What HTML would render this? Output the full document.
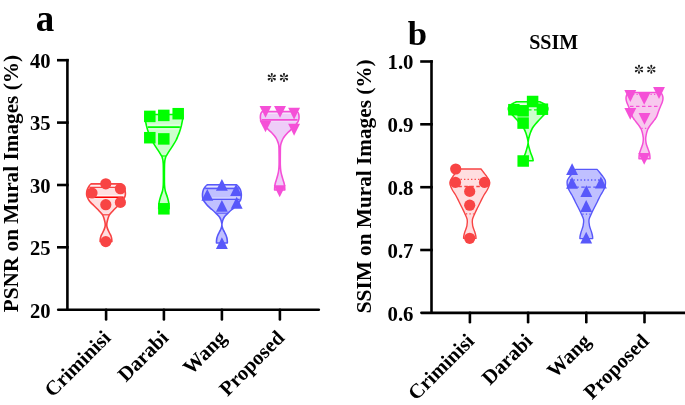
<!DOCTYPE html>
<html><head><meta charset="utf-8"><style>
html,body{margin:0;padding:0;background:#fff;}
body{width:685px;height:405px;overflow:hidden;font-family:"Liberation Serif",serif;}
svg{display:block;}
</style></head><body>
<svg width="685" height="405" viewBox="0 0 685 405">
<rect width="685" height="405" fill="#fff"/>
<path d="M91.00,183.90 C90.70,184.25 89.78,185.15 89.20,186.00 C88.62,186.85 87.92,188.00 87.50,189.00 C87.08,190.00 86.83,191.00 86.70,192.00 C86.57,193.00 86.53,194.00 86.70,195.00 C86.87,196.00 87.30,197.08 87.70,198.00 C88.10,198.92 88.62,199.77 89.10,200.50 C89.58,201.23 89.82,201.57 90.60,202.40 C91.38,203.23 92.72,204.43 93.80,205.50 C94.88,206.57 96.20,207.88 97.10,208.80 C98.00,209.72 98.50,210.25 99.20,211.00 C99.90,211.75 100.68,212.55 101.30,213.30 C101.92,214.05 102.45,214.63 102.90,215.50 C103.35,216.37 103.68,217.50 104.00,218.50 C104.32,219.50 104.60,220.58 104.80,221.50 C105.00,222.42 105.15,223.17 105.20,224.00 C105.25,224.83 105.28,225.57 105.10,226.50 C104.92,227.43 104.53,228.52 104.10,229.60 C103.67,230.68 103.02,231.93 102.50,233.00 C101.98,234.07 101.37,235.00 101.00,236.00 C100.63,237.00 100.45,238.07 100.30,239.00 C100.15,239.93 100.13,241.17 100.10,241.60 L111.90,241.60 C111.87,241.17 111.85,239.93 111.70,239.00 C111.55,238.07 111.37,237.00 111.00,236.00 C110.63,235.00 110.02,234.07 109.50,233.00 C108.98,231.93 108.33,230.68 107.90,229.60 C107.47,228.52 107.08,227.43 106.90,226.50 C106.72,225.57 106.75,224.83 106.80,224.00 C106.85,223.17 107.00,222.42 107.20,221.50 C107.40,220.58 107.68,219.50 108.00,218.50 C108.32,217.50 108.65,216.37 109.10,215.50 C109.55,214.63 110.08,214.05 110.70,213.30 C111.32,212.55 112.10,211.75 112.80,211.00 C113.50,210.25 114.00,209.72 114.90,208.80 C115.80,207.88 117.12,206.57 118.20,205.50 C119.28,204.43 120.62,203.23 121.40,202.40 C122.18,201.57 122.42,201.23 122.90,200.50 C123.38,199.77 123.90,198.92 124.30,198.00 C124.70,197.08 125.13,196.00 125.30,195.00 C125.47,194.00 125.43,193.00 125.30,192.00 C125.17,191.00 124.92,190.00 124.50,189.00 C124.08,188.00 123.38,186.85 122.80,186.00 C122.22,185.15 121.30,184.25 121.00,183.90 Z" fill="#ffdee0" stroke="#f84444" stroke-width="1.6" stroke-linejoin="round"/>
<line x1="90.29" y1="185.9" x2="121.71" y2="185.9" stroke="#fff4f4" stroke-width="1.3"/>
<line x1="89.41" y1="187.4" x2="122.59" y2="187.4" stroke="#f84444" stroke-width="1.3"/>
<line x1="87.90" y1="195.6" x2="124.10" y2="195.6" stroke="#fff2f2" stroke-width="1.3"/>
<line x1="88.45" y1="197.25" x2="123.55" y2="197.25" stroke="#ff0000" stroke-width="1.5"/>
<line x1="89.09" y1="198.7" x2="122.91" y2="198.7" stroke="#ffeaea" stroke-width="1.0"/>
<line x1="102.89" y1="214.8" x2="109.11" y2="214.8" stroke="#f84444" stroke-width="1.2"/>
<circle cx="105.8" cy="183.8" r="5.6" fill="#f84444"/>
<circle cx="92.0" cy="193.0" r="5.6" fill="#f84444"/>
<circle cx="120.4" cy="188.7" r="5.6" fill="#f84444"/>
<circle cx="105.8" cy="204.7" r="5.6" fill="#f84444"/>
<circle cx="120.4" cy="202.4" r="5.6" fill="#f84444"/>
<circle cx="105.8" cy="241.6" r="5.6" fill="#f84444"/>
<path d="M145.30,114.50 C145.23,114.92 144.73,115.25 144.90,117.00 C145.07,118.75 145.73,122.50 146.30,125.00 C146.87,127.50 147.70,130.17 148.30,132.00 C148.90,133.83 149.35,134.67 149.90,136.00 C150.45,137.33 150.83,138.52 151.60,140.00 C152.37,141.48 153.47,143.25 154.50,144.90 C155.53,146.55 156.73,148.25 157.80,149.90 C158.87,151.55 160.22,153.70 160.90,154.80 C161.58,155.90 161.63,155.88 161.90,156.50 C162.17,157.12 162.32,157.75 162.50,158.50 C162.68,159.25 162.87,159.92 163.00,161.00 C163.13,162.08 163.23,162.67 163.30,165.00 C163.37,167.33 163.40,171.67 163.40,175.00 C163.40,178.33 163.45,182.33 163.30,185.00 C163.15,187.67 162.97,189.00 162.50,191.00 C162.03,193.00 161.08,195.00 160.50,197.00 C159.92,199.00 159.30,201.03 159.00,203.00 C158.70,204.97 158.75,207.83 158.70,208.80 L169.10,208.80 C169.05,207.83 169.10,204.97 168.80,203.00 C168.50,201.03 167.88,199.00 167.30,197.00 C166.72,195.00 165.77,193.00 165.30,191.00 C164.83,189.00 164.65,187.67 164.50,185.00 C164.35,182.33 164.40,178.33 164.40,175.00 C164.40,171.67 164.43,167.33 164.50,165.00 C164.57,162.67 164.67,162.08 164.80,161.00 C164.93,159.92 165.12,159.25 165.30,158.50 C165.48,157.75 165.63,157.12 165.90,156.50 C166.17,155.88 166.22,155.90 166.90,154.80 C167.58,153.70 168.93,151.55 170.00,149.90 C171.07,148.25 172.27,146.55 173.30,144.90 C174.33,143.25 175.43,141.48 176.20,140.00 C176.97,138.52 177.35,137.33 177.90,136.00 C178.45,134.67 178.90,133.83 179.50,132.00 C180.10,130.17 180.93,127.50 181.50,125.00 C182.07,122.50 182.73,118.75 182.90,117.00 C183.07,115.25 182.57,114.92 182.50,114.50 Z" fill="#ccffcc" stroke="#00ff00" stroke-width="1.6" stroke-linejoin="round"/>
<line x1="147.36" y1="125.2" x2="180.44" y2="125.2" stroke="#e6ffe6" stroke-width="1.2"/>
<line x1="148.44" y1="129.0" x2="179.36" y2="129.0" stroke="#e6ffe6" stroke-width="0.9"/>
<line x1="147.93" y1="127.2" x2="179.87" y2="127.2" stroke="#00ff00" stroke-width="1.8"/>
<line x1="161.91" y1="156.0" x2="165.89" y2="156.0" stroke="#00ff00" stroke-width="1.2"/>
<rect x="144.05" y="110.65" width="11.5" height="11.5" fill="#00ff00"/>
<rect x="158.05" y="109.65" width="11.5" height="11.5" fill="#00ff00"/>
<rect x="172.45" y="107.95" width="11.5" height="11.5" fill="#00ff00"/>
<rect x="144.05" y="131.95" width="11.5" height="11.5" fill="#00ff00"/>
<rect x="158.05" y="133.15" width="11.5" height="11.5" fill="#00ff00"/>
<rect x="158.15" y="203.05" width="11.5" height="11.5" fill="#00ff00"/>
<path d="M207.30,184.70 C206.93,185.08 205.77,186.12 205.10,187.00 C204.43,187.88 203.73,188.83 203.30,190.00 C202.87,191.17 202.60,192.67 202.50,194.00 C202.40,195.33 202.57,197.00 202.70,198.00 C202.83,199.00 202.85,199.17 203.30,200.00 C203.75,200.83 204.57,201.93 205.40,203.00 C206.23,204.07 207.22,205.32 208.30,206.40 C209.38,207.48 210.68,208.42 211.90,209.50 C213.12,210.58 214.37,211.70 215.60,212.90 C216.83,214.10 218.45,215.60 219.30,216.70 C220.15,217.80 220.33,218.62 220.70,219.50 C221.07,220.38 221.30,221.17 221.50,222.00 C221.70,222.83 221.88,223.67 221.90,224.50 C221.92,225.33 221.80,226.17 221.60,227.00 C221.40,227.83 221.07,228.67 220.70,229.50 C220.33,230.33 219.87,231.08 219.40,232.00 C218.93,232.92 218.32,234.00 217.90,235.00 C217.48,236.00 217.13,237.00 216.90,238.00 C216.67,239.00 216.57,240.17 216.50,241.00 C216.43,241.83 216.50,242.67 216.50,243.00 L227.30,243.00 C227.30,242.67 227.37,241.83 227.30,241.00 C227.23,240.17 227.13,239.00 226.90,238.00 C226.67,237.00 226.32,236.00 225.90,235.00 C225.48,234.00 224.87,232.92 224.40,232.00 C223.93,231.08 223.47,230.33 223.10,229.50 C222.73,228.67 222.40,227.83 222.20,227.00 C222.00,226.17 221.88,225.33 221.90,224.50 C221.92,223.67 222.10,222.83 222.30,222.00 C222.50,221.17 222.73,220.38 223.10,219.50 C223.47,218.62 223.65,217.80 224.50,216.70 C225.35,215.60 226.97,214.10 228.20,212.90 C229.43,211.70 230.68,210.58 231.90,209.50 C233.12,208.42 234.42,207.48 235.50,206.40 C236.58,205.32 237.57,204.07 238.40,203.00 C239.23,201.93 240.05,200.83 240.50,200.00 C240.95,199.17 240.97,199.00 241.10,198.00 C241.23,197.00 241.40,195.33 241.30,194.00 C241.20,192.67 240.93,191.17 240.50,190.00 C240.07,188.83 239.37,187.88 238.70,187.00 C238.03,186.12 236.87,185.08 236.50,184.70 Z" fill="#c0c0ff" stroke="#5858fa" stroke-width="1.6" stroke-linejoin="round"/>
<line x1="206.48" y1="186.6" x2="237.32" y2="186.6" stroke="#e4e4ff" stroke-width="1.4"/>
<line x1="205.20" y1="188.5" x2="238.60" y2="188.5" stroke="#5858fa" stroke-width="1.4"/>
<line x1="203.69" y1="197.9" x2="240.11" y2="197.9" stroke="#d4d4ff" stroke-width="1.2"/>
<line x1="204.11" y1="199.35" x2="239.69" y2="199.35" stroke="#5858fa" stroke-width="1.3"/>
<line x1="216.29" y1="213.2" x2="227.51" y2="213.2" stroke="#5858fa" stroke-width="1.1"/>
<path d="M221.90,178.90 L227.85,190.70 L215.95,190.70 Z" fill="#5858fa"/>
<path d="M207.30,188.90 L213.25,200.70 L201.35,200.70 Z" fill="#5858fa"/>
<path d="M236.10,184.10 L242.05,195.90 L230.15,195.90 Z" fill="#5858fa"/>
<path d="M221.90,199.95 L227.85,211.75 L215.95,211.75 Z" fill="#5858fa"/>
<path d="M236.70,196.85 L242.65,208.65 L230.75,208.65 Z" fill="#5858fa"/>
<path d="M221.90,237.15 L227.85,248.95 L215.95,248.95 Z" fill="#5858fa"/>
<path d="M262.10,111.60 C261.90,111.92 261.18,112.77 260.90,113.50 C260.62,114.23 260.47,115.08 260.40,116.00 C260.33,116.92 260.38,118.17 260.50,119.00 C260.62,119.83 260.80,120.33 261.10,121.00 C261.40,121.67 261.80,122.28 262.30,123.00 C262.80,123.72 263.43,124.55 264.10,125.30 C264.77,126.05 265.50,126.70 266.30,127.50 C267.10,128.30 268.03,129.27 268.90,130.10 C269.77,130.93 270.55,131.53 271.50,132.50 C272.45,133.47 273.80,134.90 274.60,135.90 C275.40,136.90 275.77,137.50 276.30,138.50 C276.83,139.50 277.40,140.85 277.80,141.90 C278.20,142.95 278.50,143.78 278.70,144.80 C278.90,145.82 278.93,146.30 279.00,148.00 C279.07,149.70 279.08,152.17 279.10,155.00 C279.12,157.83 279.18,162.33 279.10,165.00 C279.02,167.67 278.83,169.30 278.60,171.00 C278.37,172.70 278.08,173.70 277.70,175.20 C277.32,176.70 276.70,178.67 276.30,180.00 C275.90,181.33 275.55,182.20 275.30,183.20 C275.05,184.20 274.92,184.87 274.80,186.00 C274.68,187.13 274.63,189.33 274.60,190.00 L284.80,190.00 C284.77,189.33 284.72,187.13 284.60,186.00 C284.48,184.87 284.35,184.20 284.10,183.20 C283.85,182.20 283.50,181.33 283.10,180.00 C282.70,178.67 282.08,176.70 281.70,175.20 C281.32,173.70 281.03,172.70 280.80,171.00 C280.57,169.30 280.38,167.67 280.30,165.00 C280.22,162.33 280.28,157.83 280.30,155.00 C280.32,152.17 280.33,149.70 280.40,148.00 C280.47,146.30 280.50,145.82 280.70,144.80 C280.90,143.78 281.20,142.95 281.60,141.90 C282.00,140.85 282.57,139.50 283.10,138.50 C283.63,137.50 284.00,136.90 284.80,135.90 C285.60,134.90 286.95,133.47 287.90,132.50 C288.85,131.53 289.63,130.93 290.50,130.10 C291.37,129.27 292.30,128.30 293.10,127.50 C293.90,126.70 294.63,126.05 295.30,125.30 C295.97,124.55 296.60,123.72 297.10,123.00 C297.60,122.28 298.00,121.67 298.30,121.00 C298.60,120.33 298.78,119.83 298.90,119.00 C299.02,118.17 299.07,116.92 299.00,116.00 C298.93,115.08 298.78,114.23 298.50,113.50 C298.22,112.77 297.50,111.92 297.30,111.60 Z" fill="#eecdf8" stroke="#f550d7" stroke-width="1.6" stroke-linejoin="round"/>
<line x1="262.03" y1="113.3" x2="297.37" y2="113.3" stroke="#f6e8fb" stroke-width="1.0"/>
<line x1="262.22" y1="121.2" x2="297.18" y2="121.2" stroke="#f4e4fa" stroke-width="0.8"/>
<line x1="261.75" y1="119.85" x2="297.64" y2="119.85" stroke="#f550d7" stroke-width="1.9"/>
<path d="M259.55,106.05 L271.45,106.05 L265.50,117.85 Z" fill="#f550d7"/>
<path d="M274.05,105.90 L285.95,105.90 L280.00,117.70 Z" fill="#f550d7"/>
<path d="M288.15,107.70 L300.05,107.70 L294.10,119.50 Z" fill="#f550d7"/>
<path d="M259.55,120.50 L271.45,120.50 L265.50,132.30 Z" fill="#f550d7"/>
<path d="M288.15,123.85 L300.05,123.85 L294.10,135.65 Z" fill="#f550d7"/>
<path d="M273.75,185.35 L285.65,185.35 L279.70,197.15 Z" fill="#f550d7"/>
<path d="M458.60,169.00 C458.22,169.50 457.20,170.83 456.30,172.00 C455.40,173.17 454.15,174.67 453.20,176.00 C452.25,177.33 451.15,178.83 450.60,180.00 C450.05,181.17 449.90,182.00 449.90,183.00 C449.90,184.00 450.18,184.83 450.60,186.00 C451.02,187.17 451.57,188.50 452.40,190.00 C453.23,191.50 454.53,193.13 455.60,195.00 C456.67,196.87 457.77,199.15 458.80,201.20 C459.83,203.25 460.80,205.25 461.80,207.30 C462.80,209.35 463.90,211.43 464.80,213.50 C465.70,215.57 466.85,217.63 467.20,219.70 C467.55,221.77 467.30,223.85 466.90,225.90 C466.50,227.95 465.32,230.32 464.80,232.00 C464.28,233.68 464.00,234.93 463.80,236.00 C463.60,237.07 463.63,238.00 463.60,238.40 L476.00,238.40 C475.97,238.00 476.00,237.07 475.80,236.00 C475.60,234.93 475.32,233.68 474.80,232.00 C474.28,230.32 473.10,227.95 472.70,225.90 C472.30,223.85 472.05,221.77 472.40,219.70 C472.75,217.63 473.90,215.57 474.80,213.50 C475.70,211.43 476.80,209.35 477.80,207.30 C478.80,205.25 479.77,203.25 480.80,201.20 C481.83,199.15 482.93,196.87 484.00,195.00 C485.07,193.13 486.37,191.50 487.20,190.00 C488.03,188.50 488.58,187.17 489.00,186.00 C489.42,184.83 489.70,184.00 489.70,183.00 C489.70,182.00 489.55,181.17 489.00,180.00 C488.45,178.83 487.35,177.33 486.40,176.00 C485.45,174.67 484.20,173.17 483.30,172.00 C482.40,170.83 481.38,169.50 481.00,169.00 Z" fill="#ffdee0" stroke="#f84444" stroke-width="1.4" stroke-linejoin="round"/>
<line x1="453.56" y1="179.3" x2="486.05" y2="179.3" stroke="#f84444" stroke-width="1.3" stroke-dasharray="1.3 2.2"/>
<line x1="452.32" y1="186.5" x2="487.28" y2="186.5" stroke="#f84444" stroke-width="1.3" stroke-dasharray="3.5 2.5"/>
<line x1="465.92" y1="213.8" x2="473.68" y2="213.8" stroke="#f84444" stroke-width="1.3" stroke-dasharray="1.3 2.2"/>
<circle cx="455.7" cy="169.0" r="5.6" fill="#f84444"/>
<circle cx="455.5" cy="182.4" r="5.6" fill="#f84444"/>
<circle cx="484.5" cy="182.4" r="5.6" fill="#f84444"/>
<circle cx="469.7" cy="191.4" r="5.6" fill="#f84444"/>
<circle cx="469.7" cy="205.2" r="5.6" fill="#f84444"/>
<circle cx="469.7" cy="238.3" r="5.6" fill="#f84444"/>
<path d="M516.30,101.80 C515.60,102.17 513.35,103.13 512.10,104.00 C510.85,104.87 509.40,106.00 508.80,107.00 C508.20,108.00 508.22,109.00 508.50,110.00 C508.78,111.00 509.65,111.97 510.50,113.00 C511.35,114.03 512.50,115.03 513.60,116.20 C514.70,117.37 515.92,118.70 517.10,120.00 C518.28,121.30 519.60,122.67 520.70,124.00 C521.80,125.33 522.83,126.50 523.70,128.00 C524.57,129.50 525.33,131.50 525.90,133.00 C526.47,134.50 526.78,135.83 527.10,137.00 C527.42,138.17 527.63,139.08 527.80,140.00 C527.97,140.92 528.10,141.67 528.10,142.50 C528.10,143.33 527.98,144.08 527.80,145.00 C527.62,145.92 527.37,146.72 527.00,148.00 C526.63,149.28 526.08,151.28 525.60,152.70 C525.12,154.12 524.48,155.45 524.10,156.50 C523.72,157.55 523.47,158.30 523.30,159.00 C523.13,159.70 523.13,160.42 523.10,160.70 L533.10,160.70 C533.07,160.42 533.07,159.70 532.90,159.00 C532.73,158.30 532.48,157.55 532.10,156.50 C531.72,155.45 531.08,154.12 530.60,152.70 C530.12,151.28 529.57,149.28 529.20,148.00 C528.83,146.72 528.58,145.92 528.40,145.00 C528.22,144.08 528.10,143.33 528.10,142.50 C528.10,141.67 528.23,140.92 528.40,140.00 C528.57,139.08 528.78,138.17 529.10,137.00 C529.42,135.83 529.73,134.50 530.30,133.00 C530.87,131.50 531.63,129.50 532.50,128.00 C533.37,126.50 534.40,125.33 535.50,124.00 C536.60,122.67 537.92,121.30 539.10,120.00 C540.28,118.70 541.50,117.37 542.60,116.20 C543.70,115.03 544.85,114.03 545.70,113.00 C546.55,111.97 547.42,111.00 547.70,110.00 C547.98,109.00 548.00,108.00 547.40,107.00 C546.80,106.00 545.35,104.87 544.10,104.00 C542.85,103.13 540.60,102.17 539.90,101.80 Z" fill="#ccffcc" stroke="#00ff00" stroke-width="1.6" stroke-linejoin="round"/>
<line x1="514.38" y1="104.2" x2="541.82" y2="104.2" stroke="#f0fff0" stroke-width="1.3"/>
<line x1="510.02" y1="109.8" x2="546.18" y2="109.8" stroke="#00ff00" stroke-width="1.3" stroke-dasharray="3.5 2.5"/>
<rect x="526.85" y="95.75" width="11.5" height="11.5" fill="#00ff00"/>
<rect x="508.15" y="103.95" width="11.5" height="11.5" fill="#00ff00"/>
<rect x="517.35" y="105.05" width="11.5" height="11.5" fill="#00ff00"/>
<rect x="536.65" y="103.45" width="11.5" height="11.5" fill="#00ff00"/>
<rect x="517.35" y="117.35" width="11.5" height="11.5" fill="#00ff00"/>
<rect x="517.45" y="155.25" width="11.5" height="11.5" fill="#00ff00"/>
<path d="M575.50,169.40 C575.13,169.83 574.20,170.90 573.30,172.00 C572.40,173.10 571.07,174.67 570.10,176.00 C569.13,177.33 568.00,178.83 567.50,180.00 C567.00,181.17 567.07,181.83 567.10,183.00 C567.13,184.17 567.30,185.67 567.70,187.00 C568.10,188.33 568.80,189.67 569.50,191.00 C570.20,192.33 570.98,193.30 571.90,195.00 C572.82,196.70 573.97,199.15 575.00,201.20 C576.03,203.25 577.08,205.25 578.10,207.30 C579.12,209.35 580.18,211.43 581.10,213.50 C582.02,215.57 583.27,217.63 583.60,219.70 C583.93,221.77 583.52,223.85 583.10,225.90 C582.68,227.95 581.60,230.32 581.10,232.00 C580.60,233.68 580.30,234.90 580.10,236.00 C579.90,237.10 579.93,238.17 579.90,238.60 L592.70,238.60 C592.67,238.17 592.70,237.10 592.50,236.00 C592.30,234.90 592.00,233.68 591.50,232.00 C591.00,230.32 589.92,227.95 589.50,225.90 C589.08,223.85 588.67,221.77 589.00,219.70 C589.33,217.63 590.58,215.57 591.50,213.50 C592.42,211.43 593.48,209.35 594.50,207.30 C595.52,205.25 596.57,203.25 597.60,201.20 C598.63,199.15 599.78,196.70 600.70,195.00 C601.62,193.30 602.40,192.33 603.10,191.00 C603.80,189.67 604.50,188.33 604.90,187.00 C605.30,185.67 605.47,184.17 605.50,183.00 C605.53,181.83 605.60,181.17 605.10,180.00 C604.60,178.83 603.47,177.33 602.50,176.00 C601.53,174.67 600.20,173.10 599.30,172.00 C598.40,170.90 597.47,169.83 597.10,169.40 Z" fill="#c0c0ff" stroke="#5858fa" stroke-width="1.4" stroke-linejoin="round"/>
<line x1="570.00" y1="180.0" x2="602.60" y2="180.0" stroke="#5858fa" stroke-width="1.3" stroke-dasharray="1.3 2.2"/>
<line x1="569.29" y1="187.2" x2="603.31" y2="187.2" stroke="#5858fa" stroke-width="1.3" stroke-dasharray="3.5 2.5"/>
<line x1="582.34" y1="214.1" x2="590.26" y2="214.1" stroke="#5858fa" stroke-width="1.3" stroke-dasharray="1.3 2.2"/>
<path d="M572.10,163.20 L578.05,175.00 L566.15,175.00 Z" fill="#5858fa"/>
<path d="M572.00,176.90 L577.95,188.70 L566.05,188.70 Z" fill="#5858fa"/>
<path d="M600.90,176.60 L606.85,188.40 L594.95,188.40 Z" fill="#5858fa"/>
<path d="M586.30,185.20 L592.25,197.00 L580.35,197.00 Z" fill="#5858fa"/>
<path d="M586.20,200.10 L592.15,211.90 L580.25,211.90 Z" fill="#5858fa"/>
<path d="M586.20,231.65 L592.15,243.45 L580.25,243.45 Z" fill="#5858fa"/>
<path d="M628.50,92.40 C628.23,92.75 627.30,93.73 626.90,94.50 C626.50,95.27 626.23,96.17 626.10,97.00 C625.97,97.83 626.00,98.67 626.10,99.50 C626.20,100.33 626.40,101.08 626.70,102.00 C627.00,102.92 627.45,103.92 627.90,105.00 C628.35,106.08 628.93,107.33 629.40,108.50 C629.87,109.67 630.25,110.75 630.70,112.00 C631.15,113.25 631.63,114.92 632.10,116.00 C632.57,117.08 633.03,117.77 633.50,118.50 C633.97,119.23 634.37,119.70 634.90,120.40 C635.43,121.10 636.12,121.95 636.70,122.70 C637.28,123.45 637.87,124.18 638.40,124.90 C638.93,125.62 639.43,126.27 639.90,127.00 C640.37,127.73 640.85,128.55 641.20,129.30 C641.55,130.05 641.77,130.75 642.00,131.50 C642.23,132.25 642.43,133.05 642.60,133.80 C642.77,134.55 642.88,135.30 643.00,136.00 C643.12,136.70 643.27,137.17 643.30,138.00 C643.33,138.83 643.30,140.00 643.20,141.00 C643.10,142.00 642.95,143.00 642.70,144.00 C642.45,145.00 642.05,146.00 641.70,147.00 C641.35,148.00 640.95,149.00 640.60,150.00 C640.25,151.00 639.85,152.00 639.60,153.00 C639.35,154.00 639.20,155.03 639.10,156.00 C639.00,156.97 639.02,158.33 639.00,158.80 L650.00,158.80 C649.98,158.33 650.00,156.97 649.90,156.00 C649.80,155.03 649.65,154.00 649.40,153.00 C649.15,152.00 648.75,151.00 648.40,150.00 C648.05,149.00 647.65,148.00 647.30,147.00 C646.95,146.00 646.55,145.00 646.30,144.00 C646.05,143.00 645.90,142.00 645.80,141.00 C645.70,140.00 645.67,138.83 645.70,138.00 C645.73,137.17 645.88,136.70 646.00,136.00 C646.12,135.30 646.23,134.55 646.40,133.80 C646.57,133.05 646.77,132.25 647.00,131.50 C647.23,130.75 647.45,130.05 647.80,129.30 C648.15,128.55 648.63,127.73 649.10,127.00 C649.57,126.27 650.07,125.62 650.60,124.90 C651.13,124.18 651.72,123.45 652.30,122.70 C652.88,121.95 653.57,121.10 654.10,120.40 C654.63,119.70 655.03,119.23 655.50,118.50 C655.97,117.77 656.43,117.08 656.90,116.00 C657.37,114.92 657.85,113.25 658.30,112.00 C658.75,110.75 659.13,109.67 659.60,108.50 C660.07,107.33 660.65,106.08 661.10,105.00 C661.55,103.92 662.00,102.92 662.30,102.00 C662.60,101.08 662.80,100.33 662.90,99.50 C663.00,98.67 663.03,97.83 662.90,97.00 C662.77,96.17 662.50,95.27 662.10,94.50 C661.70,93.73 660.77,92.75 660.50,92.40 Z" fill="#f8c8ee" stroke="#f550d7" stroke-width="1.5" stroke-linejoin="round"/>
<line x1="629.48" y1="94.4" x2="659.52" y2="94.4" stroke="#f550d7" stroke-width="1.3" stroke-dasharray="1.3 2.2"/>
<line x1="630.00" y1="106.4" x2="659.00" y2="106.4" stroke="#f550d7" stroke-width="1.3" stroke-dasharray="3.5 2.5"/>
<line x1="641.43" y1="128.3" x2="647.57" y2="128.3" stroke="#f550d7" stroke-width="1.3" stroke-dasharray="1.3 2.2"/>
<path d="M624.35,90.10 L636.25,90.10 L630.30,101.90 Z" fill="#f550d7"/>
<path d="M638.25,92.90 L650.15,92.90 L644.20,104.70 Z" fill="#f550d7"/>
<path d="M653.05,87.10 L664.95,87.10 L659.00,98.90 Z" fill="#f550d7"/>
<path d="M624.35,108.00 L636.25,108.00 L630.30,119.80 Z" fill="#f550d7"/>
<path d="M638.55,113.00 L650.45,113.00 L644.50,124.80 Z" fill="#f550d7"/>
<path d="M638.25,152.90 L650.15,152.90 L644.20,164.70 Z" fill="#f550d7"/>
<line x1="67.4" y1="58.900000000000006" x2="67.4" y2="309.7" stroke="#000" stroke-width="2.6"/>
<line x1="58.2" y1="309.7" x2="318.8" y2="309.7" stroke="#000" stroke-width="2.6" stroke-linecap="round"/>
<line x1="57.0" y1="60.2" x2="68.7" y2="60.2" stroke="#000" stroke-width="2.6"/>
<line x1="57.0" y1="122.6" x2="68.7" y2="122.6" stroke="#000" stroke-width="2.6"/>
<line x1="57.0" y1="185.0" x2="68.7" y2="185.0" stroke="#000" stroke-width="2.6"/>
<line x1="57.0" y1="247.3" x2="68.7" y2="247.3" stroke="#000" stroke-width="2.6"/>
<line x1="106.1" y1="309.7" x2="106.1" y2="319.4" stroke="#000" stroke-width="2.6" stroke-linecap="round"/>
<line x1="163.9" y1="309.7" x2="163.9" y2="319.4" stroke="#000" stroke-width="2.6" stroke-linecap="round"/>
<line x1="221.9" y1="309.7" x2="221.9" y2="319.4" stroke="#000" stroke-width="2.6" stroke-linecap="round"/>
<line x1="279.9" y1="309.7" x2="279.9" y2="319.4" stroke="#000" stroke-width="2.6" stroke-linecap="round"/>
<line x1="431.5" y1="60.2" x2="431.5" y2="312.85" stroke="#000" stroke-width="2.6"/>
<line x1="421.4" y1="312.85" x2="690" y2="312.85" stroke="#000" stroke-width="2.6" stroke-linecap="round"/>
<line x1="420.2" y1="61.5" x2="432.8" y2="61.5" stroke="#000" stroke-width="2.6"/>
<line x1="420.2" y1="124.3" x2="432.8" y2="124.3" stroke="#000" stroke-width="2.6"/>
<line x1="420.2" y1="187.2" x2="432.8" y2="187.2" stroke="#000" stroke-width="2.6"/>
<line x1="420.2" y1="250.0" x2="432.8" y2="250.0" stroke="#000" stroke-width="2.6"/>
<line x1="469.9" y1="312.85" x2="469.9" y2="322.3" stroke="#000" stroke-width="2.6" stroke-linecap="round"/>
<line x1="528.1" y1="312.85" x2="528.1" y2="322.3" stroke="#000" stroke-width="2.6" stroke-linecap="round"/>
<line x1="586.3" y1="312.85" x2="586.3" y2="322.3" stroke="#000" stroke-width="2.6" stroke-linecap="round"/>
<line x1="644.5" y1="312.85" x2="644.5" y2="322.3" stroke="#000" stroke-width="2.6" stroke-linecap="round"/>
<g style="filter:grayscale(1)">
<text x="50.5" y="68.0" font-family="Liberation Serif" font-weight="bold" font-size="20.6" text-anchor="end">40</text>
<text x="50.5" y="130.4" font-family="Liberation Serif" font-weight="bold" font-size="20.6" text-anchor="end">35</text>
<text x="50.5" y="192.8" font-family="Liberation Serif" font-weight="bold" font-size="20.6" text-anchor="end">30</text>
<text x="50.5" y="255.10000000000002" font-family="Liberation Serif" font-weight="bold" font-size="20.6" text-anchor="end">25</text>
<text x="50.5" y="317.5" font-family="Liberation Serif" font-weight="bold" font-size="20.6" text-anchor="end">20</text>
<text x="413.5" y="69.3" font-family="Liberation Serif" font-weight="bold" font-size="20.8" text-anchor="end">1.0</text>
<text x="413.5" y="132.1" font-family="Liberation Serif" font-weight="bold" font-size="20.8" text-anchor="end">0.9</text>
<text x="413.5" y="195.0" font-family="Liberation Serif" font-weight="bold" font-size="20.8" text-anchor="end">0.8</text>
<text x="413.5" y="257.8" font-family="Liberation Serif" font-weight="bold" font-size="20.8" text-anchor="end">0.7</text>
<text x="413.5" y="320.65000000000003" font-family="Liberation Serif" font-weight="bold" font-size="20.8" text-anchor="end">0.6</text>
<text transform="translate(18.1,183.6) rotate(-90)" font-family="Liberation Serif" font-weight="bold" font-size="21.25" text-anchor="middle">PSNR on Mural Images (%)</text>
<text transform="translate(370.8,186.3) rotate(-90)" font-family="Liberation Serif" font-weight="bold" font-size="21.25" text-anchor="middle">SSIM on Mural Images (%)</text>
<text x="35.7" y="31.0" font-family="Liberation Serif" font-weight="bold" font-size="37">a</text>
<text x="407.8" y="44.6" font-family="Liberation Serif" font-weight="bold" font-size="34.7">b</text>
<text x="553.7" y="48.6" font-family="Liberation Serif" font-weight="bold" font-size="20" text-anchor="middle">SSIM</text>
<path d="M271.95,76.90 L272.85,74.05 A1.05,1.05 0 1 0 270.75,74.05 L271.65,76.90 Z" fill="#1c1c1c"/>
<path d="M272.39,77.33 L275.31,76.68 A1.05,1.05 0 1 0 274.26,74.87 L272.24,77.07 Z" fill="#1c1c1c"/>
<path d="M272.24,77.93 L274.26,80.13 A1.05,1.05 0 1 0 275.31,78.32 L272.39,77.67 Z" fill="#1c1c1c"/>
<path d="M271.65,78.10 L270.75,80.95 A1.05,1.05 0 1 0 272.85,80.95 L271.95,78.10 Z" fill="#1c1c1c"/>
<path d="M271.36,77.07 L269.34,74.87 A1.05,1.05 0 1 0 268.29,76.68 L271.21,77.33 Z" fill="#1c1c1c"/>
<path d="M271.21,77.67 L268.29,78.32 A1.05,1.05 0 1 0 269.34,80.13 L271.36,77.93 Z" fill="#1c1c1c"/>
<path d="M284.15,76.90 L285.05,74.05 A1.05,1.05 0 1 0 282.95,74.05 L283.85,76.90 Z" fill="#1c1c1c"/>
<path d="M284.59,77.33 L287.51,76.68 A1.05,1.05 0 1 0 286.46,74.87 L284.44,77.07 Z" fill="#1c1c1c"/>
<path d="M284.44,77.93 L286.46,80.13 A1.05,1.05 0 1 0 287.51,78.32 L284.59,77.67 Z" fill="#1c1c1c"/>
<path d="M283.85,78.10 L282.95,80.95 A1.05,1.05 0 1 0 285.05,80.95 L284.15,78.10 Z" fill="#1c1c1c"/>
<path d="M283.56,77.07 L281.54,74.87 A1.05,1.05 0 1 0 280.49,76.68 L283.41,77.33 Z" fill="#1c1c1c"/>
<path d="M283.41,77.67 L280.49,78.32 A1.05,1.05 0 1 0 281.54,80.13 L283.56,77.93 Z" fill="#1c1c1c"/>
<path d="M639.15,68.75 L640.05,65.90 A1.05,1.05 0 1 0 637.95,65.90 L638.85,68.75 Z" fill="#1c1c1c"/>
<path d="M639.59,69.18 L642.51,68.53 A1.05,1.05 0 1 0 641.46,66.72 L639.44,68.92 Z" fill="#1c1c1c"/>
<path d="M639.44,69.78 L641.46,71.98 A1.05,1.05 0 1 0 642.51,70.17 L639.59,69.52 Z" fill="#1c1c1c"/>
<path d="M638.85,69.95 L637.95,72.80 A1.05,1.05 0 1 0 640.05,72.80 L639.15,69.95 Z" fill="#1c1c1c"/>
<path d="M638.56,68.92 L636.54,66.72 A1.05,1.05 0 1 0 635.49,68.53 L638.41,69.18 Z" fill="#1c1c1c"/>
<path d="M638.41,69.52 L635.49,70.17 A1.05,1.05 0 1 0 636.54,71.98 L638.56,69.78 Z" fill="#1c1c1c"/>
<path d="M651.45,68.75 L652.35,65.90 A1.05,1.05 0 1 0 650.25,65.90 L651.15,68.75 Z" fill="#1c1c1c"/>
<path d="M651.89,69.18 L654.81,68.53 A1.05,1.05 0 1 0 653.76,66.72 L651.74,68.92 Z" fill="#1c1c1c"/>
<path d="M651.74,69.78 L653.76,71.98 A1.05,1.05 0 1 0 654.81,70.17 L651.89,69.52 Z" fill="#1c1c1c"/>
<path d="M651.15,69.95 L650.25,72.80 A1.05,1.05 0 1 0 652.35,72.80 L651.45,69.95 Z" fill="#1c1c1c"/>
<path d="M650.86,68.92 L648.84,66.72 A1.05,1.05 0 1 0 647.79,68.53 L650.71,69.18 Z" fill="#1c1c1c"/>
<path d="M650.71,69.52 L647.79,70.17 A1.05,1.05 0 1 0 648.84,71.98 L650.86,69.78 Z" fill="#1c1c1c"/>
<text transform="translate(111.8,339) rotate(-45)" font-family="Liberation Serif" font-weight="bold" font-size="20.6" text-anchor="end">Criminisi</text>
<text transform="translate(169.6,339) rotate(-45)" font-family="Liberation Serif" font-weight="bold" font-size="20.6" text-anchor="end">Darabi</text>
<text transform="translate(227.6,339) rotate(-45)" font-family="Liberation Serif" font-weight="bold" font-size="20.6" text-anchor="end">Wang</text>
<text transform="translate(285.59999999999997,339) rotate(-45)" font-family="Liberation Serif" font-weight="bold" font-size="20.6" text-anchor="end">Proposed</text>
<text transform="translate(475.4,342.3) rotate(-45)" font-family="Liberation Serif" font-weight="bold" font-size="20.6" text-anchor="end">Criminisi</text>
<text transform="translate(533.6,342.3) rotate(-45)" font-family="Liberation Serif" font-weight="bold" font-size="20.6" text-anchor="end">Darabi</text>
<text transform="translate(591.8,342.3) rotate(-45)" font-family="Liberation Serif" font-weight="bold" font-size="20.6" text-anchor="end">Wang</text>
<text transform="translate(650.0,342.3) rotate(-45)" font-family="Liberation Serif" font-weight="bold" font-size="20.6" text-anchor="end">Proposed</text>
</g>
</svg>
</body></html>
